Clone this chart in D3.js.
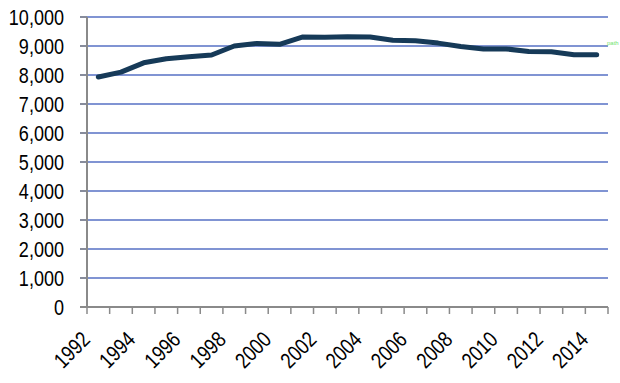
<!DOCTYPE html>
<html>
<head>
<meta charset="utf-8">
<script src="https://cdn.jsdelivr.net/npm/d3@7"></script>
<style>
  body { margin: 0; background: #fff; }
  svg { display: block; }
  text { font-family: "Liberation Sans", Arial, sans-serif; }
</style>
</head>
<body>
<svg id="chart" width="620" height="383"></svg>
<script>
// chart data
const years = [1992, 1993, 1994, 1995, 1996, 1997, 1998, 1999, 2000, 2001, 2002, 2003,
  2004, 2005, 2006, 2007, 2008, 2009, 2010, 2011, 2012, 2013, 2014];
const values = [7930, 8100, 8420, 8560, 8630, 8690, 9000, 9090, 9060, 9310, 9300, 9320,
  9310, 9200, 9180, 9100, 8980, 8900, 8900, 8810, 8800, 8700, 8700];
const yTicks = [0, 1000, 2000, 3000, 4000, 5000, 6000, 7000, 8000, 9000, 10000];
const labelYears = years.filter(y => y % 2 === 0);
const seriesName = "path";

const svg = d3.select("#chart");
const plotLeft = 87, plotRight = 608, plotTop = 17, plotBottom = 307;
const narrow = 0.82; // the labels in the picture are condensed

const x = d3.scaleBand().domain(years).range([plotLeft, plotRight]);
const y = d3.scaleLinear().domain([0, 10000]).range([plotBottom, plotTop]);

// gridlines
svg.append("g")
  .selectAll("line")
  .data(yTicks.filter(d => d > 0))
  .enter().append("line")
  .attr("x1", plotLeft - 7).attr("x2", plotRight)
  .attr("y1", d => y(d)).attr("y2", d => y(d))
  .attr("stroke", "#5670c4")
  .attr("stroke-width", 1.3);

// y tick marks (gray part left of axis)
svg.append("g")
  .selectAll("line")
  .data(yTicks)
  .enter().append("line")
  .attr("x1", plotLeft - 7).attr("x2", plotLeft)
  .attr("y1", d => y(d)).attr("y2", d => y(d))
  .attr("stroke", "#8a8a8a")
  .attr("stroke-width", 1.5);

// y axis labels
svg.append("g")
  .selectAll("text")
  .data(yTicks)
  .enter().append("text")
  .attr("transform", d => `translate(64,${y(d) + 8}) scale(${narrow},1)`)
  .attr("text-anchor", "end")
  .attr("font-size", 22)
  .attr("fill", "#000")
  .text(d => d3.format(",")(d));

// axes
svg.append("line")
  .attr("x1", plotLeft).attr("x2", plotLeft)
  .attr("y1", plotTop).attr("y2", plotBottom)
  .attr("stroke", "#8a8a8a").attr("stroke-width", 2);
svg.append("line")
  .attr("x1", plotLeft - 7).attr("x2", plotRight)
  .attr("y1", plotBottom).attr("y2", plotBottom)
  .attr("stroke", "#8a8a8a").attr("stroke-width", 2);

// x tick marks between categories
const tickPos = years.map(d => x(d)).concat([plotRight]);
svg.append("g")
  .selectAll("line")
  .data(tickPos)
  .enter().append("line")
  .attr("x1", d => d).attr("x2", d => d)
  .attr("y1", plotBottom).attr("y2", plotBottom + 7)
  .attr("stroke", "#8a8a8a").attr("stroke-width", 1.5);

// x labels
svg.append("g")
  .selectAll("text")
  .data(labelYears)
  .enter().append("text")
  .attr("text-anchor", "end")
  .attr("font-size", 22)
  .attr("fill", "#000")
  .attr("transform", d => `translate(${x(d) + x.bandwidth() / 2 - 7},${plotBottom + 34}) rotate(-45) scale(${narrow},1)`)
  .text(d => d);

// series line
const line = d3.line()
  .x((d, i) => x(years[i]) + x.bandwidth() / 2)
  .y(d => y(d));

svg.append("path")
  .datum(values)
  .attr("d", line)
  .attr("fill", "none")
  .attr("stroke", "#163a58")
  .attr("stroke-width", 5)
  .attr("stroke-linejoin", "round")
  .attr("stroke-linecap", "round");

// tiny legend text
svg.append("text")
  .attr("x", 607).attr("y", 45)
  .attr("font-size", 6)
  .attr("fill", "#6ee36e")
  .text(seriesName);
</script>
</body>
</html>
